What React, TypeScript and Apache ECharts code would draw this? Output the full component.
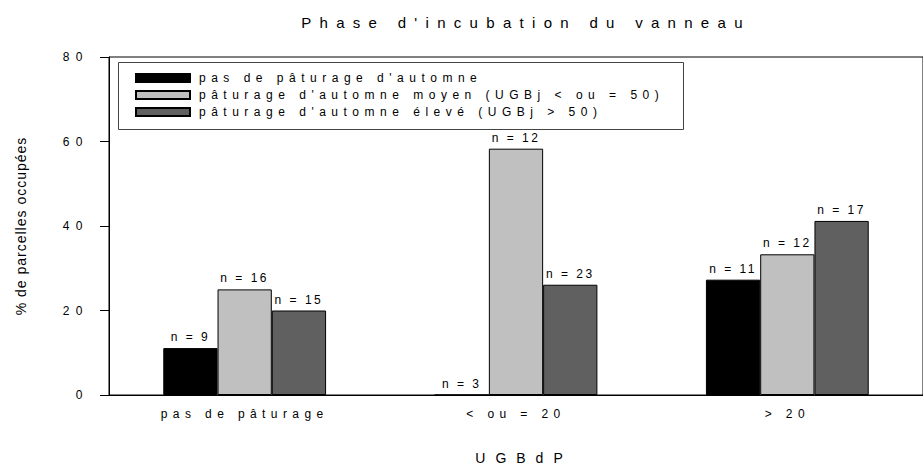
import React, { useEffect, useRef } from "react";
import * as echarts from "echarts";

const titleText = "Phase d'incubation du vanneau";
const yAxisName = "% de parcelles occupées";
const xAxisName = "UGBdP";
const categories = ["pas de pâturage", "< ou = 20", "> 20"];
const seriesNames = [
  "pas de pâturage d'automne",
  "pâturage d'automne moyen (UGBj < ou = 50)",
  "pâturage d'automne élevé (UGBj > 50)",
];
const noGrazing = [11.1, 0, 27.3];
const mediumGrazing = [25.0, 58.3, 33.3];
const highGrazing = [20.0, 26.1, 41.2];
const nNoGrazing = [9, 3, 11];
const nMediumGrazing = [16, 12, 12];
const nHighGrazing = [15, 23, 17];
const yMin = 0;
const yMax = 80;
const yInterval = 20;

const colors = ["#000000", "#c0c0c0", "#606060"];
const FONT = "Arial, 'Liberation Sans', sans-serif";

export default function App() {
  const ref = useRef<HTMLDivElement>(null);
  useEffect(() => {
    if (!ref.current) return;
    const chart = echarts.init(ref.current, undefined, { renderer: "svg" });
    const mkSeries = (name: string, data: number[], ns: number[], color: string) => ({
      name,
      type: "bar",
      data,
      barGap: "0%",
      barCategoryGap: "40%",
      itemStyle: { color, borderColor: "#000", borderWidth: 1 },
      label: {
        show: true,
        position: "top",
        distance: 5,
        color: "#000",
        fontSize: 12,
        fontFamily: FONT,
        formatter: (p: any) => "n = " + ns[p.dataIndex],
      },
    });
    chart.setOption({
      animation: false,
      backgroundColor: "#fff",
      textStyle: { fontFamily: FONT },
      title: {
        text: titleText,
        left: 521,
        top: 10,
        textAlign: "center",
        textStyle: { fontSize: 15, fontWeight: "normal", color: "#000", fontFamily: FONT },
      },
      graphic: [
        {
          type: "rect",
          left: 118,
          top: 62,
          z: 3,
          shape: { width: 565, height: 67 },
          style: { fill: "#fff", stroke: "#444", lineWidth: 1 },
        },
      ],
      legend: {
        orient: "vertical",
        left: 135,
        top: 71,
        itemWidth: 54,
        itemHeight: 8,
        itemGap: 3,
        padding: 0,
        z: 5,
        icon: "rect",
        textStyle: {
          fontSize: 12,
          lineHeight: 14,
          color: "#000",
          fontFamily: FONT,
          padding: [0, 0, 0, 4],
        },
        data: seriesNames,
      },
      grid: {
        left: 109,
        top: 57,
        width: 828,
        height: 342,
        show: true,
        borderColor: "#000",
        borderWidth: 1,
      },
      xAxis: {
        type: "category",
        data: categories,
        name: xAxisName,
        nameLocation: "middle",
        nameGap: 56,
        nameTextStyle: {
          fontSize: 14,
          color: "#000",
          fontFamily: FONT,
          padding: [0, 0, 0, 16],
        },
        axisLine: { lineStyle: { color: "#000", width: 1 } },
        axisTick: { alignWithLabel: true, length: 4, lineStyle: { color: "#000" } },
        axisLabel: { color: "#000", fontSize: 12, margin: 13, fontFamily: FONT },
      },
      yAxis: {
        type: "value",
        min: yMin,
        max: yMax,
        interval: yInterval,
        name: yAxisName,
        nameLocation: "middle",
        nameRotate: 90,
        nameGap: 81,
        nameTextStyle: { fontSize: 14, color: "#000", fontFamily: FONT },
        splitLine: { show: false },
        axisLine: { show: true, lineStyle: { color: "#000", width: 1 } },
        axisTick: { show: true, length: 9, lineStyle: { color: "#000" } },
        axisLabel: { color: "#000", fontSize: 12, margin: 20, fontFamily: FONT },
      },
      series: [
        mkSeries(seriesNames[0], noGrazing, nNoGrazing, colors[0]),
        mkSeries(seriesNames[1], mediumGrazing, nMediumGrazing, colors[1]),
        mkSeries(seriesNames[2], highGrazing, nHighGrazing, colors[2]),
      ],
    });

    const applySpacing = () => {
      const root = ref.current;
      if (!root) return;
      root.querySelectorAll("text").forEach((t) => {
        const s = t.textContent || "";
        let sp = "5.4px";
        if (s === yAxisName) sp = "1px";
        else if (s === titleText) sp = "8.3px";
        else if (s === xAxisName) sp = "10px";
        else if (seriesNames.includes(s)) sp = "5.5px";
        else if (/^\d+$/.test(s)) sp = "6.5px";
        else if (s.startsWith("n = ")) sp = "2.5px";
        (t as SVGTextElement).style.letterSpacing = sp;
      });
    };
    applySpacing();
    chart.on("finished", applySpacing);
    return () => chart.dispose();
  }, []);
  return (
    <div
      ref={ref}
      style={{ position: "fixed", left: 0, top: 0, width: 923, height: 470, background: "#fff" }}
    />
  );
}
